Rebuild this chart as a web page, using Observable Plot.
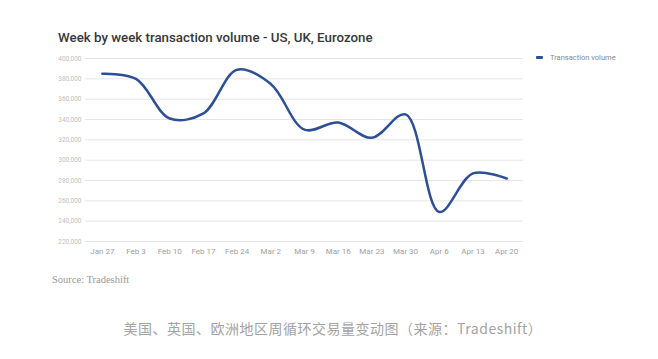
<!DOCTYPE html>
<html>
<head>
<meta charset="utf-8">
<script src="https://cdn.jsdelivr.net/npm/d3@7"></script>
<script src="https://cdn.jsdelivr.net/npm/@observablehq/plot@0.6"></script>
<style>
  html, body { margin: 0; padding: 0; background: #fff; }
  #wrap { position: relative; width: 658px; height: 359px; overflow: hidden; }
  #title { position: absolute; left: 58px; top: 30px; font-family: Roboto, "Noto Sans", sans-serif; font-size: 13.3px; font-weight: 500; color: #383838; white-space: nowrap; }
  #chart { position: absolute; left: 0; top: 0; }
  #legend { position: absolute; left: 536px; top: 53px; font-family: Roboto, sans-serif; font-size: 7.5px; color: #888; white-space: nowrap; display: flex; align-items: center; }
  #legend .sw { display: inline-block; width: 7px; height: 3px; background: #2d4f96; margin-right: 7px; border-radius: 1px; }
  #source { position: absolute; left: 52px; top: 274px; font-family: "Liberation Serif", "DejaVu Serif", serif; font-size: 10.5px; color: #999; white-space: nowrap; }
  #caption { position: absolute; left: 4px; width: 658px; top: 318px; text-align: center; font-family: "Noto Sans CJK SC", sans-serif; font-size: 14px; color: #a3a3a3; white-space: nowrap; letter-spacing: 0.5px; }
</style>
</head>
<body>
<div id="wrap">
  <div id="chart"></div>
  <div id="title">Week by week transaction volume - US, UK, Eurozone</div>
  <div id="legend"><span class="sw"></span><span>Transaction volume</span></div>
  <div id="source">Source: Tradeshift</div>
  <div id="caption">美国、英国、欧洲地区周循环交易量变动图（来源：Tradeshift）</div>
</div>
<script>
const weeks = ["Jan 27","Feb 3","Feb 10","Feb 17","Feb 24","Mar 2","Mar 9","Mar 16","Mar 23","Mar 30","Apr 6","Apr 13","Apr 20"];
const volumes = [385000, 380000, 341000, 346000, 389000, 375000, 330000, 337000, 322000, 345000, 249000, 287000, 282000];
const yTicks = [220000, 240000, 260000, 280000, 300000, 320000, 340000, 360000, 380000, 400000];

const data = weeks.map((w, i) => ({week: w, value: volumes[i]}));

const chart = Plot.plot({
  width: 658,
  height: 300,
  marginLeft: 85,
  marginRight: 135,
  marginTop: 58,
  marginBottom: 59,
  style: {fontFamily: "Roboto, sans-serif", background: "transparent"},
  x: {type: "point", domain: weeks, padding: 0.5, round: false, label: null},
  y: {domain: [220000, 400000], label: null},
  marks: [
    Plot.ruleY(yTicks, {stroke: "#e6e6e6", strokeWidth: 1}),
    Plot.axisY({ticks: yTicks, tickSize: 0, tickPadding: 4, tickFormat: d3.format(","), fontSize: 6.5, fill: "#c0c0c0", label: null}),
    Plot.axisX({tickSize: 0, tickPadding: 7, fontSize: 8, fill: "#a0a0a0", label: null}),
    Plot.line(data, {x: "week", y: "value", curve: "catmull-rom", stroke: "#2d4f96", strokeWidth: 2.5})
  ]
});
document.getElementById("chart").appendChild(chart);
</script>
</body>
</html>
